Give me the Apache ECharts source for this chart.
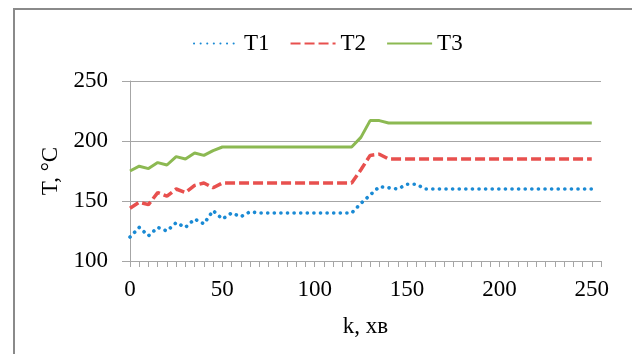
<!DOCTYPE html>
<html>
<head>
<meta charset="utf-8">
<script src="https://cdn.jsdelivr.net/npm/echarts@6/dist/echarts.min.js"></script>
<style>
  html, body { margin: 0; padding: 0; background: #fff; }
  #chart { width: 632px; height: 354px; }
</style>
</head>
<body>
<div id="chart"></div>
<script>
// k, хв
const kValues = [0, 5, 10, 15, 20, 25, 30, 35, 40, 45, 50, 55, 60, 65, 70, 75, 80, 85, 90, 95,
  100, 105, 110, 115, 120, 125, 130, 135, 140, 145, 150, 155, 160, 165, 170, 175, 180, 185, 190, 195,
  200, 205, 210, 215, 220, 225, 230, 235, 240, 245, 250];

// T, °C
const t1 = [120, 128, 121, 128, 125, 132, 128, 135, 131, 142, 135, 140, 137, 141, 140,
  140, 140, 140, 140, 140, 140, 140, 140, 140, 140,
  148, 155, 162, 161, 160, 164, 164, 160,
  160, 160, 160, 160, 160, 160, 160, 160, 160, 160, 160, 160, 160, 160, 160, 160, 160, 160];
const t2 = [144, 149, 147, 157, 154, 160, 157, 163, 165, 161, 165,
  165, 165, 165, 165, 165, 165, 165, 165, 165, 165, 165, 165, 165, 165,
  176, 188, 189, 185,
  185, 185, 185, 185, 185, 185, 185, 185, 185, 185, 185, 185, 185, 185, 185, 185, 185, 185, 185, 185, 185, 185];
const t3 = [175, 179, 177, 182, 180, 187, 185, 190, 188, 192, 195,
  195, 195, 195, 195, 195, 195, 195, 195, 195, 195, 195, 195, 195, 195,
  203, 217, 217, 215,
  215, 215, 215, 215, 215, 215, 215, 215, 215, 215, 215, 215, 215, 215, 215, 215, 215, 215, 215, 215, 215, 215];

const seriesNames = ['T1', 'T2', 'T3'];
const yTicks = [100, 150, 200, 250];

const font = "'Liberation Serif', 'Times New Roman', serif";
const gridColor = '#a6a6a6';

// couples [k, T] pour chaque série
function pairs(values) {
  return kValues.map((k, i) => [k, values[i]]);
}

const chart = echarts.init(document.getElementById('chart'));

chart.setOption({
  animation: false,
  textStyle: { fontFamily: font, color: '#000' },
  graphic: [
    {
      type: 'rect',
      shape: { x: 14, y: 9, width: 660, height: 380 },
      style: { fill: 'none', stroke: '#8a8a8a', lineWidth: 2 },
      silent: true
    }
  ],
  legend: {
    left: 188,
    top: 27,
    itemWidth: 45,
    itemHeight: 14,
    itemGap: 20,
    data: seriesNames,
    itemStyle: { opacity: 0 },
    textStyle: { fontFamily: font, fontSize: 23, color: '#000' }
  },
  grid: { left: 130, right: 31, top: 81, bottom: 93 },
  xAxis: {
    type: 'value',
    min: 0,
    max: 255,
    interval: 5,
    name: 'k, хв',
    nameLocation: 'middle',
    nameGap: 54,
    nameTextStyle: { fontFamily: font, fontSize: 23, color: '#000' },
    axisLine: { show: true, lineStyle: { color: gridColor, width: 1 } },
    axisTick: { show: true, length: 6, lineStyle: { color: gridColor } },
    axisLabel: {
      margin: 17,
      fontFamily: font,
      fontSize: 23,
      color: '#000',
      formatter: v => (v % 50 === 0 ? String(v) : '')
    },
    splitLine: { show: false }
  },
  yAxis: {
    type: 'value',
    min: yTicks[0],
    max: yTicks[yTicks.length - 1],
    interval: 50,
    name: 'T, °C',
    nameLocation: 'middle',
    nameGap: 67,
    nameTextStyle: { fontFamily: font, fontSize: 23, color: '#000' },
    axisLine: { show: true, lineStyle: { color: gridColor, width: 1 } },
    axisTick: { show: true, length: 8, lineStyle: { color: gridColor } },
    axisLabel: { margin: 22, fontFamily: font, fontSize: 23, color: '#000' },
    splitLine: { show: true, lineStyle: { color: gridColor, width: 1 } }
  },
  series: [
    {
      name: 'T1',
      type: 'line',
      data: pairs(t1),
      symbol: 'none',
      lineStyle: { color: '#1a8ad4', width: 3.6, type: [0.1, 6.5], cap: 'round' },
      itemStyle: { color: '#1a8ad4' }
    },
    {
      name: 'T2',
      type: 'line',
      data: pairs(t2),
      symbol: 'none',
      lineStyle: { color: '#e8504e', width: 3.5, type: [10, 4] },
      itemStyle: { color: '#e8504e' }
    },
    {
      name: 'T3',
      type: 'line',
      data: pairs(t3),
      symbol: 'none',
      lineStyle: { color: '#8cb952', width: 3, type: 'solid' },
      itemStyle: { color: '#8cb952' }
    }
  ]
});
</script>
</body>
</html>
